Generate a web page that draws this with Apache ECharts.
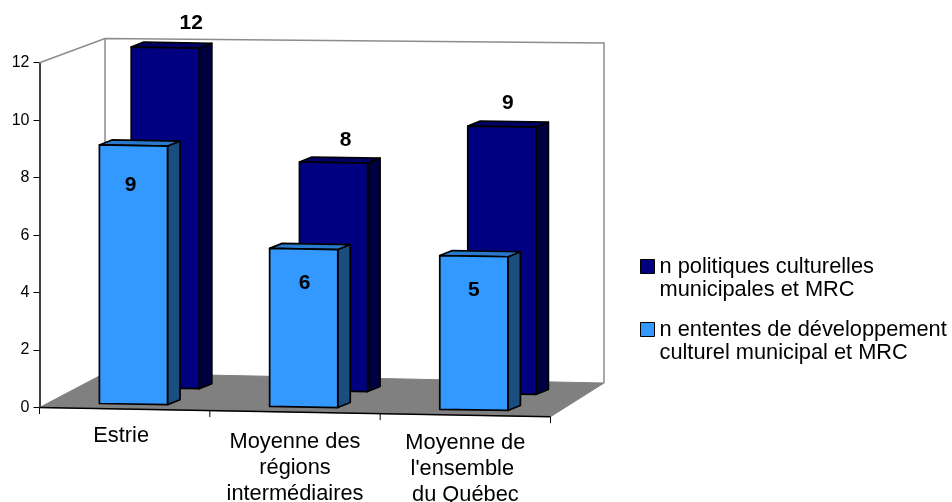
<!DOCTYPE html>
<html><head><meta charset="utf-8">
<style>html,body{margin:0;padding:0;background:#fff}#c{width:952px;height:502px}</style>
<script src="https://cdn.jsdelivr.net/npm/echarts@6/dist/echarts.min.js"></script>
</head><body><div id="c"></div>
<script>
const categories = ["Estrie", "Moyenne des\nrégions\nintermédiaires", "Moyenne de\nl'ensemble \ndu Québec"];
const yTicks = [0, 2, 4, 6, 8, 10, 12];
const politiques = [11.85, 7.95, 9.3];
const ententes = [9, 5.5, 5.35];
const politiquesLabels = ["12", "8", "9"];
const ententesLabels = ["9", "6", "5"];
const seriesNames = ["n politiques culturelles\nmunicipales et MRC", "n ententes de développement\nculturel municipal et MRC"];

const FONT = '"Liberation Sans", Arial, sans-serif';
const SKEW = 0.017;
const stroke = {stroke: '#000', lineWidth: 1.7, lineJoin: 'round'};

function barRenderer(opts) {
  return function (params, api) {
    const i = params.dataIndex;
    const v = api.value(1);
    const base = api.coord([i, 0]);
    const top = api.coord([i, v]);
    const bw = api.size([1, 0])[0] * 0.4;
    const cx = base[0] + opts.shift[i];
    const x0 = cx - bw / 2, x1 = cx + bw / 2;
    const off = x => SKEW * (x - 39.5) + opts.depth;
    const p = (x, y) => [x, y + off(x)];
    const A = p(x0, base[1]), B = p(x1, base[1]), C = p(x1, top[1]), D = p(x0, top[1]);
    const dx = 12.5, dy = -5;
    const mv = q => [q[0] + dx, q[1] + dy];
    const lab = opts.labels[i];
    const lo = opts.labelOffset[i];
    return {type: 'group', children: [
      {type: 'polygon', shape: {points: [B, C, mv(C), mv(B)]}, style: Object.assign({fill: opts.side}, stroke)},
      {type: 'polygon', shape: {points: [D, C, mv(C), mv(D)]}, style: Object.assign({fill: opts.top}, stroke)},
      {type: 'polygon', shape: {points: [A, B, C, D]}, style: Object.assign({fill: opts.front}, stroke)},
      {type: 'text', z2: 10, style: {text: lab, x: cx + lo[0], y: (C[1] + D[1]) / 2 + lo[1],
        align: 'center', verticalAlign: 'middle', fill: '#000', font: 'bold 21px ' + FONT}}
    ]};
  };
}

function frameRenderer(params, api) {
  const o = api.coord([0, 0]);
  const t = api.coord([0, 12]);
  const band = api.size([1, 0])[0];
  const left = o[0] - band / 2;
  const right = left + band * categories.length;
  const fl = [left, o[1]];
  const fr = [right, o[1] + 9.2];
  const bl = [left + 65.5, o[1] - 34.5];
  const br = [right + 53.5, o[1] - 24.5];
  const tl = [left + 65.5, t[1] - 24.2];
  const tr = [right + 53.5, t[1] - 19.7];
  const gray = {stroke: '#8c8c8c', lineWidth: 1.5, fill: null};
  const kids = [
    {type: 'polygon', shape: {points: [fl, bl, br, fr]}, style: {fill: '#808080', stroke: '#808080', lineWidth: 1}},
    {type: 'polyline', shape: {points: [[left, t[1]], tl, tr, br]}, style: gray},
    {type: 'line', shape: {x1: bl[0], y1: bl[1], x2: tl[0], y2: tl[1]}, style: gray},
    {type: 'line', shape: {x1: fl[0], y1: fl[1], x2: fr[0], y2: fr[1]}, style: {stroke: '#000', lineWidth: 1.5}}
  ];
  for (let k = 0; k <= categories.length; k++) {
    const x = left + band * k;
    const y = o[1] + 9.2 * k / categories.length;
    kids.push({type: 'line', shape: {x1: x, y1: y, x2: x, y2: y + 6.5}, style: {stroke: '#000', lineWidth: 1}});
  }
  return {type: 'group', children: kids};
}

const legendIcon = 'path://M0 0L14 0L14 14L0 14Z M0 38L0.01 38';
const catStyle = {fontFamily: FONT, fontSize: 21.8, color: '#000', lineHeight: 26};

const chart = echarts.init(document.getElementById('c'), null, {renderer: 'canvas'});
chart.setOption({
  animation: false,
  backgroundColor: '#fff',
  grid: {left: 39.5, top: 62.7, width: 511, height: 344.8, containLabel: false, outerBoundsMode: 'none'},
  xAxis: {
    type: 'category', data: categories,
    axisLine: {show: false}, axisTick: {show: false},
    axisLabel: {
      interval: 0, margin: 15, hideOverlap: false,
      formatter: function (val, idx) {
        const lines = val.split('\n').map(l => '{n|' + l + '}');
        if (idx === 0) return '{e|' + val + '}';
        return ['{s' + idx + '| }'].concat(lines).join('\n');
      },
      rich: {
        e: Object.assign({}, catStyle, {padding: [0, 7, 0, 0]}),
        s1: {fontSize: 1, lineHeight: 6},
        s2: {fontSize: 1, lineHeight: 7.5},
        n: catStyle
      }
    }
  },
  yAxis: {
    type: 'value', min: 0, max: 12, interval: 2,
    splitLine: {show: false},
    axisLine: {show: true, lineStyle: {color: '#000', width: 1.5}},
    axisTick: {show: true, length: 6, lineStyle: {color: '#000', width: 1}},
    axisLabel: {
      margin: 10, color: '#000', fontFamily: FONT, fontSize: 16,
      formatter: v => yTicks.includes(v) ? String(v) : ''
    }
  },
  legend: {
    orient: 'vertical', left: 635, top: 250, itemGap: 16, selectedMode: false,
    itemWidth: 14, itemHeight: 38,
    textStyle: {fontFamily: FONT, fontSize: 21.8, color: '#000', lineHeight: 23.5},
    itemStyle: {borderColor: '#000', borderWidth: 1},
    data: [{name: seriesNames[0], icon: legendIcon}, {name: seriesNames[1], icon: legendIcon}]
  },
  series: [
    {type: 'custom', name: 'frame', silent: true, z: 1, data: [[0, 0]], renderItem: frameRenderer, clip: false},
    {type: 'custom', name: seriesNames[0], z: 2, clip: false,
      itemStyle: {color: '#000080'},
      data: politiques.map((v, i) => [i, v]),
      renderItem: barRenderer({front: '#000080', side: '#000040', top: '#000066', depth: -21.5,
        shift: [40.6, 38.5, 36.5], labels: politiquesLabels,
        labelOffset: [[26, -24], [12, -22], [6, -23]]})},
    {type: 'custom', name: seriesNames[1], z: 3, clip: false,
      itemStyle: {color: '#3399FF'},
      data: ententes.map((v, i) => [i, v]),
      renderItem: barRenderer({front: '#3399FF', side: '#1A4D80', top: '#297ACC', depth: -5,
        shift: [8.8, 8.7, 8.5], labels: ententesLabels,
        labelOffset: [[-3, 40], [1, 34], [0, 34]]})}
  ]
});
</script></body></html>
